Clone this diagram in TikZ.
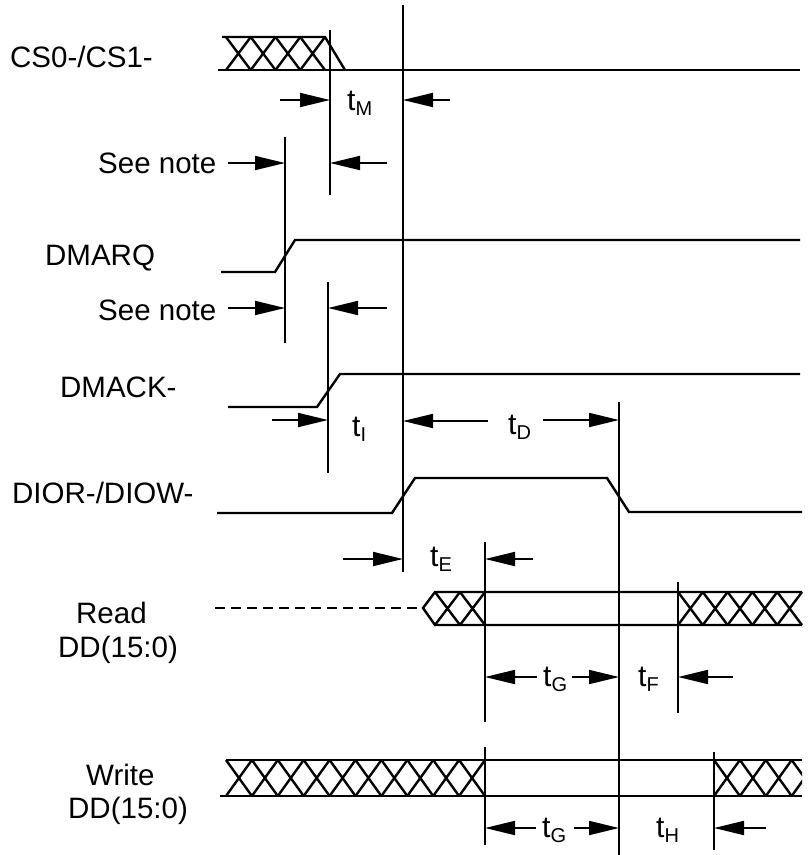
\documentclass[tikz,border=0pt]{standalone}
\usepackage{fontspec}
\setmainfont{Liberation Sans}
\usetikzlibrary{arrows.meta}
\newcommand{\tsub}[1]{\raisebox{-5pt}{\fontsize{20}{22}\selectfont #1}}
% crossed bus: x0, width of one X, count, top y, bottom y
\newcommand{\xbus}[5]{\foreach \k in {1,...,#3} {\draw[sig] ({#1+(\k-1)*#2},#4) -- ({#1+\k*#2},#5) ({#1+(\k-1)*#2},#5) -- ({#1+\k*#2},#4);}}

\begin{document}
\begin{tikzpicture}[x=1pt, y=-1pt, >={Triangle[length=30pt,width=14pt]},
    sig/.style={line width=2.4pt},
    tline/.style={line width=1.5pt},
    tarr/.style={->, line width=1.8pt},
    lbl/.style={anchor=base west, inner sep=0pt, font=\fontsize{29.5}{34}\selectfont},
    tlbl/.style={anchor=base west, inner sep=0pt, font=\fontsize{30}{32}\selectfont}]

    \useasboundingbox (0,0) rectangle (807,855);

    % Signal names
    \node[lbl] (cs) at (10,67) {CS0-/CS1-};
    \node[lbl] (note1) at (98,173) {See note};
    \node[lbl] (dmarq) at (45,265) {DMARQ};
    \node[lbl] (note2) at (98,320) {See note};
    \node[lbl] (dmack) at (60,397) {DMACK-};
    \node[lbl] (dior) at (12,503) {DIOR-/DIOW-};
    \node[lbl] (rd) at (76,623) {Read};
    \node[lbl] (rdbus) at (58,657) {DD(15:0)};
    \node[lbl] (wr) at (86,785) {Write};
    \node[lbl] (wrbus) at (68,818) {DD(15:0)};

    % Waveforms
    \draw[sig] (222,37) -- (325,37) -- (345,70);
    \draw[sig] (218,70) -- (800,70);
    \xbus{226}{24.75}{4}{37}{70}

    \draw[sig] (221,272) -- (275,272) -- (295,240) -- (800,240);
    \draw[sig] (228,407) -- (317,407) -- (340,374) -- (800,374);
    \draw[sig] (217,513) -- (392,513) -- (415,478) -- (607,478) -- (629,512) -- (802,512);

    \draw[line width=1.8pt, dash pattern=on 10pt off 6pt] (215,608) -- (423,608);
    \draw[sig] (802,592) -- (435,592) -- (423,608) -- (435,625) -- (802,625);
    \xbus{435}{25}{2}{592}{625}
    \xbus{678}{24.8}{5}{592}{625}

    \draw[sig] (226,760) -- (802,760);
    \draw[sig] (220,796) -- (802,796);
    \xbus{226}{25.9}{10}{760}{796}
    \begin{scope}
        \clip (714,750) rectangle (802,806);
        \xbus{714}{25.9}{4}{760}{796}
    \end{scope}

    % Timing lines
    \coordinate (v1) at (403,5);
    \coordinate (v2) at (330,30);
    \coordinate (v3) at (285,137);
    \coordinate (v4) at (328,282);
    \coordinate (v5) at (619,402);
    \coordinate (v6) at (485,542);
    \coordinate (v7) at (678,582);
    \coordinate (v8) at (714,752);
    \draw[tline] (v1) -- (403,572);
    \draw[tline] (v2) -- (330,195);
    \draw[tline] (v3) -- (285,343);
    \draw[tline] (v4) -- (328,473);
    \draw[tline] (v5) -- (619,855);
    \draw[tline] (v6) -- (485,722) (485,747) -- (485,845);
    \draw[tline] (v7) -- (678,713);
    \draw[tline] (v8) -- (714,850);

    % Timing arrows and labels
    \draw[tarr] (280,100) -- (v2 |- 0,100);
    \draw[tarr] (450,100) -- (v1 |- 0,100);
    \node[tlbl] (tm) at (347,110) {t\tsub{M}};

    \draw[tarr] (228,163) -- (v3 |- 0,163);
    \draw[tarr] (387,163) -- (v2 |- 0,163);

    \draw[tarr] (228,308) -- (v3 |- 0,308);
    \draw[tarr] (387,308) -- (v4 |- 0,308);

    \draw[tarr] (272,420) -- (v4 |- 0,420);
    \node[tlbl] (ti) at (352,436) {t\tsub{I}};
    \draw[tarr] (488,421) -- (v1 |- 0,421);
    \node[tlbl] (td) at (508,434) {t\tsub{D}};
    \draw[tarr] (543,420) -- (v5 |- 0,420);

    \draw[tarr] (343,559) -- (v1 |- 0,559);
    \node[tlbl] (te) at (430,566) {t\tsub{E}};
    \draw[tarr] (533,559) -- (v6 |- 0,559);

    \draw[tarr] (537,677) -- (v6 |- 0,677);
    \node[tlbl] (tg1) at (543,686) {t\tsub{G}};
    \draw[tarr] (572,677) -- (v5 |- 0,677);
    \node[tlbl] (tf) at (638,686) {t\tsub{F}};
    \draw[tarr] (733,677) -- (v7 |- 0,677);

    \draw[tarr] (536,828) -- (v6 |- 0,828);
    \node[tlbl] (tg2) at (542,837) {t\tsub{G}};
    \draw[tarr] (574,828) -- (v5 |- 0,828);
    \node[tlbl] (th) at (656,837) {t\tsub{H}};
    \draw[tarr] (766,828) -- (v8 |- 0,828);
\end{tikzpicture}
\end{document}
